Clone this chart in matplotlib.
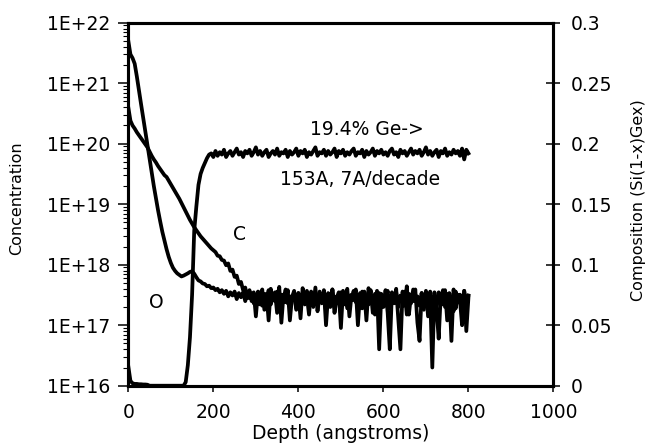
import numpy as np
import matplotlib
matplotlib.use("Agg")
import matplotlib.pyplot as plt
from matplotlib.ticker import FixedLocator, FixedFormatter, LogLocator, NullFormatter

# ---------------------------------------------------------------------------
# SIMS depth profile: O and C concentration (atoms/cm3) and Ge fraction
# sampled every 5 angstroms from the surface down to 800 angstroms.
# ---------------------------------------------------------------------------
depth_step = 5
depth = np.arange(0, 800 + depth_step, depth_step)

oxygen = [
    5.0e21, 3.0e21, 2.6e21, 2.1e21, 1.3e21, 7.6e20, 4.5e20, 2.7e20, 1.6e20, 9.5e19,
    5.6e19, 3.3e19, 2.0e19, 1.26e19, 7.9e18, 5.2e18, 3.5e18, 2.5e18, 1.8e18, 1.35e18,
    1.07e18, 8.9e17, 7.9e17, 7.2e17, 6.8e17, 6.4e17, 6.6e17, 6.9e17, 7.2e17, 7.6e17,
    7.8e17, 7.1e17, 6.2e17, 5.5e17, 5.3e17, 4.9e17, 4.8e17, 4.4e17, 4.5e17, 4.1e17,
    4.2e17, 3.8e17, 4.0e17, 3.5e17, 3.8e17, 3.3e17, 3.7e17, 3.0e17, 3.5e17, 3.1e17,
    3.6e17, 2.7e17, 3.4e17, 2.9e17, 3.5e17, 2.5e17, 3.3e17, 2.8e17, 3.4e17, 2.3e17,
    3.2e17,
    2.6e17, 3.5e17, 2.1e17, 3.3e17, 2.7e17, 3.8e17, 2.2e17, 3.1e17, 2.5e17, 3.6e17,
    1.9e17, 3.2e17, 2.8e17, 3.9e17, 2.3e17, 3.0e17, 2.6e17, 3.5e17, 1.8e17, 3.4e17,
    2.7e17, 3.1e17, 2.2e17, 3.7e17, 2.5e17, 3.3e17, 2.0e17, 3.0e17, 2.8e17, 3.6e17,
    2.3e17, 3.2e17, 1.7e17, 3.4e17, 2.6e17, 3.9e17, 2.1e17, 3.0e17, 2.7e17, 3.5e17,
    2.2e17, 3.3e17, 1.9e17, 3.1e17, 2.8e17, 3.7e17, 2.4e17, 3.2e17, 2.0e17, 3.6e17,
    2.5e17, 3.0e17, 2.2e17, 3.8e17, 1.6e17, 3.3e17, 2.7e17, 3.4e17, 2.1e17, 3.0e17,
    2.6e17, 3.7e17, 1.9e17, 3.2e17, 2.4e17, 3.5e17, 2.0e17, 3.1e17, 2.8e17, 3.6e17,
    1.5e17, 3.3e17, 2.3e17, 3.9e17, 2.6e17, 3.0e17, 2.1e17, 3.4e17, 1.8e17, 3.2e17,
    2.7e17, 3.6e17, 2.2e17, 3.1e17, 1.9e17, 3.5e17, 2.5e17, 3.8e17, 2.0e17, 3.3e17,
    2.4e17, 3.0e17, 1.7e17, 3.6e17, 2.6e17, 3.2e17, 2.1e17, 3.7e17, 2.3e17, 3.1e17,
]

carbon = [
    3.98e20, 2.40e20, 2.00e20, 1.78e20, 1.55e20, 1.38e20, 1.23e20, 1.10e20, 9.77e19, 8.71e19,
    7.41e19, 6.31e19, 5.50e19, 4.90e19, 4.27e19, 3.80e19, 3.39e19, 3.02e19, 2.82e19, 2.45e19,
    2.14e19, 1.86e19, 1.62e19, 1.41e19, 1.23e19, 1.05e19, 8.91e18, 7.59e18, 6.46e18, 5.50e18,
    4.79e18, 4.17e18, 3.72e18, 3.31e18, 2.95e18, 2.69e18, 2.45e18, 2.24e18, 2.04e18, 1.86e18,
    1.74e18, 1.62e18, 1.41e18, 1.38e18, 1.20e18, 1.17e18, 9.8e17, 1.05e18, 7.9e17, 8.3e17,
    6.3e17, 6.6e17, 4.8e17, 5.2e17, 3.8e17, 4.2e17, 2.8e17, 3.8e17, 2.5e17, 3.5e17,
    1.4e17,
    3.6e17, 2.2e17, 3.9e17, 1.8e17, 3.3e17, 1.2e17, 4.0e17, 2.6e17, 3.5e17, 1.6e17,
    4.3e17, 1.1e17, 3.2e17, 2.4e17, 3.8e17, 1.2e17, 2.9e17, 3.7e17, 1.9e17, 3.4e17,
    1.3e17, 4.1e17, 2.3e17, 3.0e17, 1.5e17, 3.6e17, 2.1e17, 4.2e17, 1.7e17, 3.1e17,
    2.5e17, 3.8e17, 1.0e17, 3.3e17, 2.0e17, 3.9e17, 1.6e17, 2.8e17, 3.5e17, 0.9e17,
    3.7e17, 2.2e17, 4.0e17, 1.4e17, 3.2e17, 2.6e17, 3.9e17, 1.0e17, 3.4e17, 1.9e17,
    3.6e17, 1.2e17, 4.1e17, 2.4e17, 3.0e17, 1.5e17, 3.7e17, 0.4e17, 3.3e17, 2.0e17,
    3.8e17, 1.6e17, 0.4e17, 3.5e17, 2.3e17, 4.0e17, 1.3e17, 0.4e17, 3.6e17, 2.1e17,
    4.4e17, 1.5e17, 3.2e17, 2.5e17, 3.9e17, 1.1e17, 0.55e17, 3.4e17, 2.0e17, 3.7e17,
    1.4e17, 3.1e17, 0.2e17, 3.5e17, 1.8e17, 0.6e17, 3.3e17, 2.2e17, 3.8e17, 1.2e17,
    3.4e17, 0.55e17, 3.9e17, 1.9e17, 3.2e17, 2.6e17, 1.0e17, 3.7e17, 0.8e17, 2.9e17,
]

ge_fraction = [
    0.016, 0.004, 0.002, 0.0015, 0.0015, 0.0012, 0.0012, 0.001, 0.001, 0.0008,
    0.0, 0.0, 0.0, 0.0, 0.0, 0.0, 0.0, 0.0, 0.0, 0.0,
    0.0, 0.0, 0.0, 0.0, 0.0, 0.0, 0.0, 0.003, 0.017, 0.040,
    0.075, 0.128, 0.148, 0.166, 0.175, 0.180, 0.184, 0.188, 0.191, 0.192,
    0.189,
    0.194, 0.190, 0.193, 0.191, 0.195, 0.189, 0.192, 0.194, 0.190, 0.193,
    0.196, 0.191, 0.193, 0.189, 0.194, 0.192, 0.195, 0.190, 0.193, 0.197,
    0.191, 0.194, 0.190, 0.193, 0.195, 0.189, 0.192, 0.194, 0.191, 0.196,
    0.190, 0.193, 0.192, 0.195, 0.189, 0.194, 0.191, 0.193, 0.196, 0.190,
    0.194, 0.192, 0.195, 0.189, 0.193, 0.191, 0.194, 0.197, 0.190, 0.193,
    0.192, 0.195, 0.190, 0.194, 0.191, 0.193, 0.196, 0.189, 0.194, 0.192,
    0.195, 0.190, 0.193, 0.191, 0.194, 0.196, 0.190, 0.193, 0.192, 0.195,
    0.189, 0.194, 0.191, 0.193, 0.196, 0.190, 0.194, 0.192, 0.195, 0.191,
    0.193, 0.190, 0.194, 0.196, 0.191, 0.193, 0.189, 0.195, 0.192, 0.194,
    0.190, 0.193, 0.196, 0.191, 0.194, 0.192, 0.195, 0.190, 0.193, 0.197,
    0.191, 0.194, 0.190, 0.193, 0.195, 0.189, 0.194, 0.192, 0.196, 0.190,
    0.193, 0.191, 0.195, 0.192, 0.194, 0.190, 0.196, 0.187, 0.195, 0.192,
]

assert len(oxygen) == len(carbon) == len(ge_fraction) == len(depth)

# Axis ticks and their labels
depth_ticks = [0, 200, 400, 600, 800, 1000]
depth_tick_labels = ["0", "200", "400", "600", "800", "1000"]
conc_ticks = [1e16, 1e17, 1e18, 1e19, 1e20, 1e21, 1e22]
conc_tick_labels = ["1E+16", "1E+17", "1E+18", "1E+19", "1E+20", "1E+21", "1E+22"]
comp_ticks = [0, 0.05, 0.1, 0.15, 0.2, 0.25, 0.3]
comp_tick_labels = ["0", "0.05", "0.1", "0.15", "0.2", "0.25", "0.3"]

plt.rcParams["font.family"] = ["DejaVu Sans"]
TICK_FS = 13.5
LABEL_FS = 11.5
SPINE_LW = 2.2
LINE_LW = 2.7

fig = plt.figure(figsize=(6.52, 4.47), dpi=100)
ax = fig.add_axes([0.1968, 0.1371, 0.6521, 0.8121])
ax2 = ax.twinx()

# concentration profiles (left, log scale)
ax.plot(depth, oxygen, color="black", lw=LINE_LW, solid_joinstyle="round")
ax.plot(depth, carbon, color="black", lw=LINE_LW, solid_joinstyle="round")
ax.set_yscale("log")
ax.set_xlim(0, 1000)
ax.set_ylim(conc_ticks[0], conc_ticks[-1])

# Ge fraction (right, linear)
ax2.plot(depth, ge_fraction, color="black", lw=LINE_LW, solid_joinstyle="round")
ax2.set_ylim(comp_ticks[0], comp_ticks[-1])

# ticks
ax.xaxis.set_major_locator(FixedLocator(depth_ticks))
ax.xaxis.set_major_formatter(FixedFormatter(depth_tick_labels))
ax.yaxis.set_major_locator(FixedLocator(conc_ticks))
ax.yaxis.set_major_formatter(FixedFormatter(conc_tick_labels))
ax.yaxis.set_minor_locator(LogLocator(base=10, subs=np.arange(2, 10), numticks=20))
ax.yaxis.set_minor_formatter(NullFormatter())
ax2.yaxis.set_major_locator(FixedLocator(comp_ticks))
ax2.yaxis.set_major_formatter(FixedFormatter(comp_tick_labels))

ax.tick_params(axis="x", which="major", direction="out", length=4.3, width=1.1,
               pad=8, labelsize=TICK_FS, top=False)
ax.tick_params(axis="y", which="major", direction="out", length=7.2, width=1.1,
               pad=5.5, labelsize=TICK_FS, right=False)
ax.tick_params(axis="y", which="minor", direction="out", length=3.8, width=0.8,
               right=False)
ax2.tick_params(axis="y", which="major", direction="inout", length=9.4, width=1.1,
                pad=8, labelsize=TICK_FS, left=False)

for a in (ax, ax2):
    for s in a.spines.values():
        s.set_linewidth(SPINE_LW)
        s.set_color("black")

# axis titles
ax.set_xlabel("Depth (angstroms)", fontsize=TICK_FS, va="baseline")
ax.xaxis.set_label_coords(0.5, -0.148)
ax.set_ylabel("Concentration", fontsize=LABEL_FS, va="center")
ax.yaxis.set_label_coords(-0.262, 0.517)
ax2.set_ylabel("Composition (Si(1-x)Gex)", fontsize=LABEL_FS, va="center", rotation=90)
ax2.yaxis.set_label_coords(1.199, 0.512)

# annotations
ax.text(561, 1.39e20, "19.4% Ge->", fontsize=TICK_FS, ha="center", va="baseline")
ax.text(545, 2.07e19, "153A, 7A/decade", fontsize=TICK_FS, ha="center", va="baseline")
ax.text(262, 2.56e18, "C", fontsize=TICK_FS, ha="center", va="baseline")
ax.text(66.6, 1.9e17, "O", fontsize=TICK_FS, ha="center", va="baseline")

fig.savefig("out.png", dpi=100)
